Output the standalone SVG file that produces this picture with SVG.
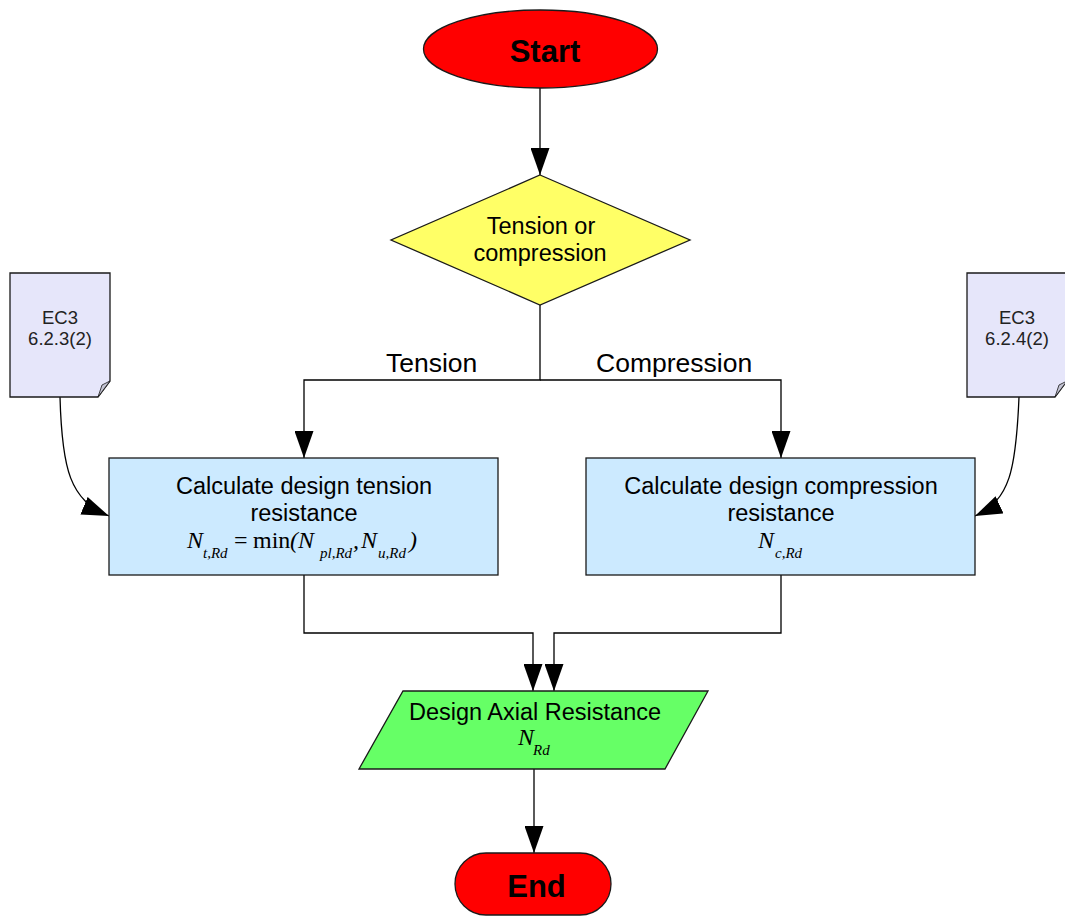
<svg xmlns="http://www.w3.org/2000/svg" width="1065" height="916" viewBox="0 0 1065 916">
<style>
.sh{stroke:#1a1a1a;stroke-width:1.3}
.ln{fill:none;stroke:#000;stroke-width:1.3}
.t{font-family:"Liberation Sans",Arial,sans-serif;font-size:23.5px;fill:#000;text-anchor:middle}
.b{font-family:"Liberation Sans",Arial,sans-serif;font-weight:bold;font-size:31px;fill:#000;text-anchor:middle}
.n{font-family:"Liberation Sans",Arial,sans-serif;font-size:18.5px;fill:#222;text-anchor:middle}
.m{font-family:"Liberation Serif","Times New Roman",serif;font-size:24px;fill:#000;font-style:italic}
.s{font-family:"Liberation Serif","Times New Roman",serif;font-size:15px;fill:#000;font-style:italic}
.r{font-family:"Liberation Serif","Times New Roman",serif;font-size:24px;fill:#000}
.lb{font-family:"Liberation Sans",Arial,sans-serif;font-size:26.5px;fill:#000}
</style>
<defs>
<marker id="ah" markerUnits="userSpaceOnUse" viewBox="0 0 27 19" refX="27" refY="9.5" markerWidth="27" markerHeight="19" orient="auto">
<path d="M0,0 L27,9.5 L0,19 Z" fill="#000"/>
</marker>
</defs>
<rect width="1065" height="916" fill="#fff"/>

<g id="connectors">
<path class="ln" d="M540,88 V175" marker-end="url(#ah)"/>
<path class="ln" d="M540,305 V380 H304 V458" marker-end="url(#ah)"/>
<path class="ln" d="M540,380 H781 V458" marker-end="url(#ah)"/>
<path class="ln" d="M60,397 C62,470 70,500 109,516" marker-end="url(#ah)"/>
<path class="ln" d="M1019,397 C1016,470 1010,500 975,516" marker-end="url(#ah)"/>
<path class="ln" d="M304,575 V633 H533 V691" marker-end="url(#ah)"/>
<path class="ln" d="M781,575 V633 H554 V691" marker-end="url(#ah)"/>
<path class="ln" d="M534,769 V853" marker-end="url(#ah)"/>
<text class="lb" x="386" y="372">Tension</text>
<text class="lb" x="596" y="372">Compression</text>
</g>

<g id="start">
<ellipse class="sh" cx="540.5" cy="49" rx="117" ry="39" fill="#ff0000"/>
<text class="b" x="545" y="62">Start</text>
</g>

<g id="decision">
<polygon class="sh" points="540,175 690,240 540,305 391,240" fill="#ffff66"/>
<text class="t" x="541" y="234">Tension or</text>
<text class="t" x="540" y="261">compression</text>
</g>

<g id="note-left">
<path class="sh" d="M10,273 H110 V381 L98,397 H10 Z" fill="#e6e6fa"/>
<path d="M110,381 L98,397 L102,385 Z" fill="#c4c4d4" stroke="#1a1a1a" stroke-width="0.8"/>
<text class="n" x="60" y="324">EC3</text>
<text class="n" x="60" y="345">6.2.3(2)</text>
</g>

<g id="note-right">
<path class="sh" d="M967,273 H1067 V381 L1055,397 H967 Z" fill="#e6e6fa"/>
<path d="M1067,381 L1055,397 L1059,385 Z" fill="#c4c4d4" stroke="#1a1a1a" stroke-width="0.8"/>
<text class="n" x="1017" y="324">EC3</text>
<text class="n" x="1017" y="345">6.2.4(2)</text>
</g>

<g id="tension-box">
<rect class="sh" x="109" y="458" width="389" height="117" fill="#cceaff"/>
<text class="t" x="304" y="494">Calculate design tension</text>
<text class="t" x="304" y="521">resistance</text>
<text class="m" x="187" y="548">N</text>
<text class="s" x="203" y="558">t,Rd</text>
<text class="r" x="234" y="548">=</text>
<text class="r" x="253" y="548">min</text>
<text class="m" x="290" y="548">(N</text>
<text class="s" x="320" y="558">pl,Rd</text>
<text class="m" x="353" y="548">,</text>
<text class="m" x="361" y="548">N</text>
<text class="s" x="378" y="558">u,Rd</text>
<text class="m" x="409" y="548">)</text>
</g>

<g id="compression-box">
<rect class="sh" x="586" y="458" width="389" height="117" fill="#cceaff"/>
<text class="t" x="781" y="494">Calculate design compression</text>
<text class="t" x="781" y="521">resistance</text>
<text class="m" x="758" y="548">N</text>
<text class="s" x="775" y="558">c,Rd</text>
</g>

<g id="output">
<polygon class="sh" points="403,691 708,691 665,769 359,769" fill="#66ff66"/>
<text class="t" x="535" y="720">Design Axial Resistance</text>
<text class="m" x="518" y="745">N</text>
<text class="s" x="533" y="755">Rd</text>
</g>

<g id="end">
<rect class="sh" x="455" y="853" width="156" height="62" rx="31" ry="31" fill="#ff0000"/>
<text class="b" x="536.5" y="897">End</text>
</g>
</svg>
